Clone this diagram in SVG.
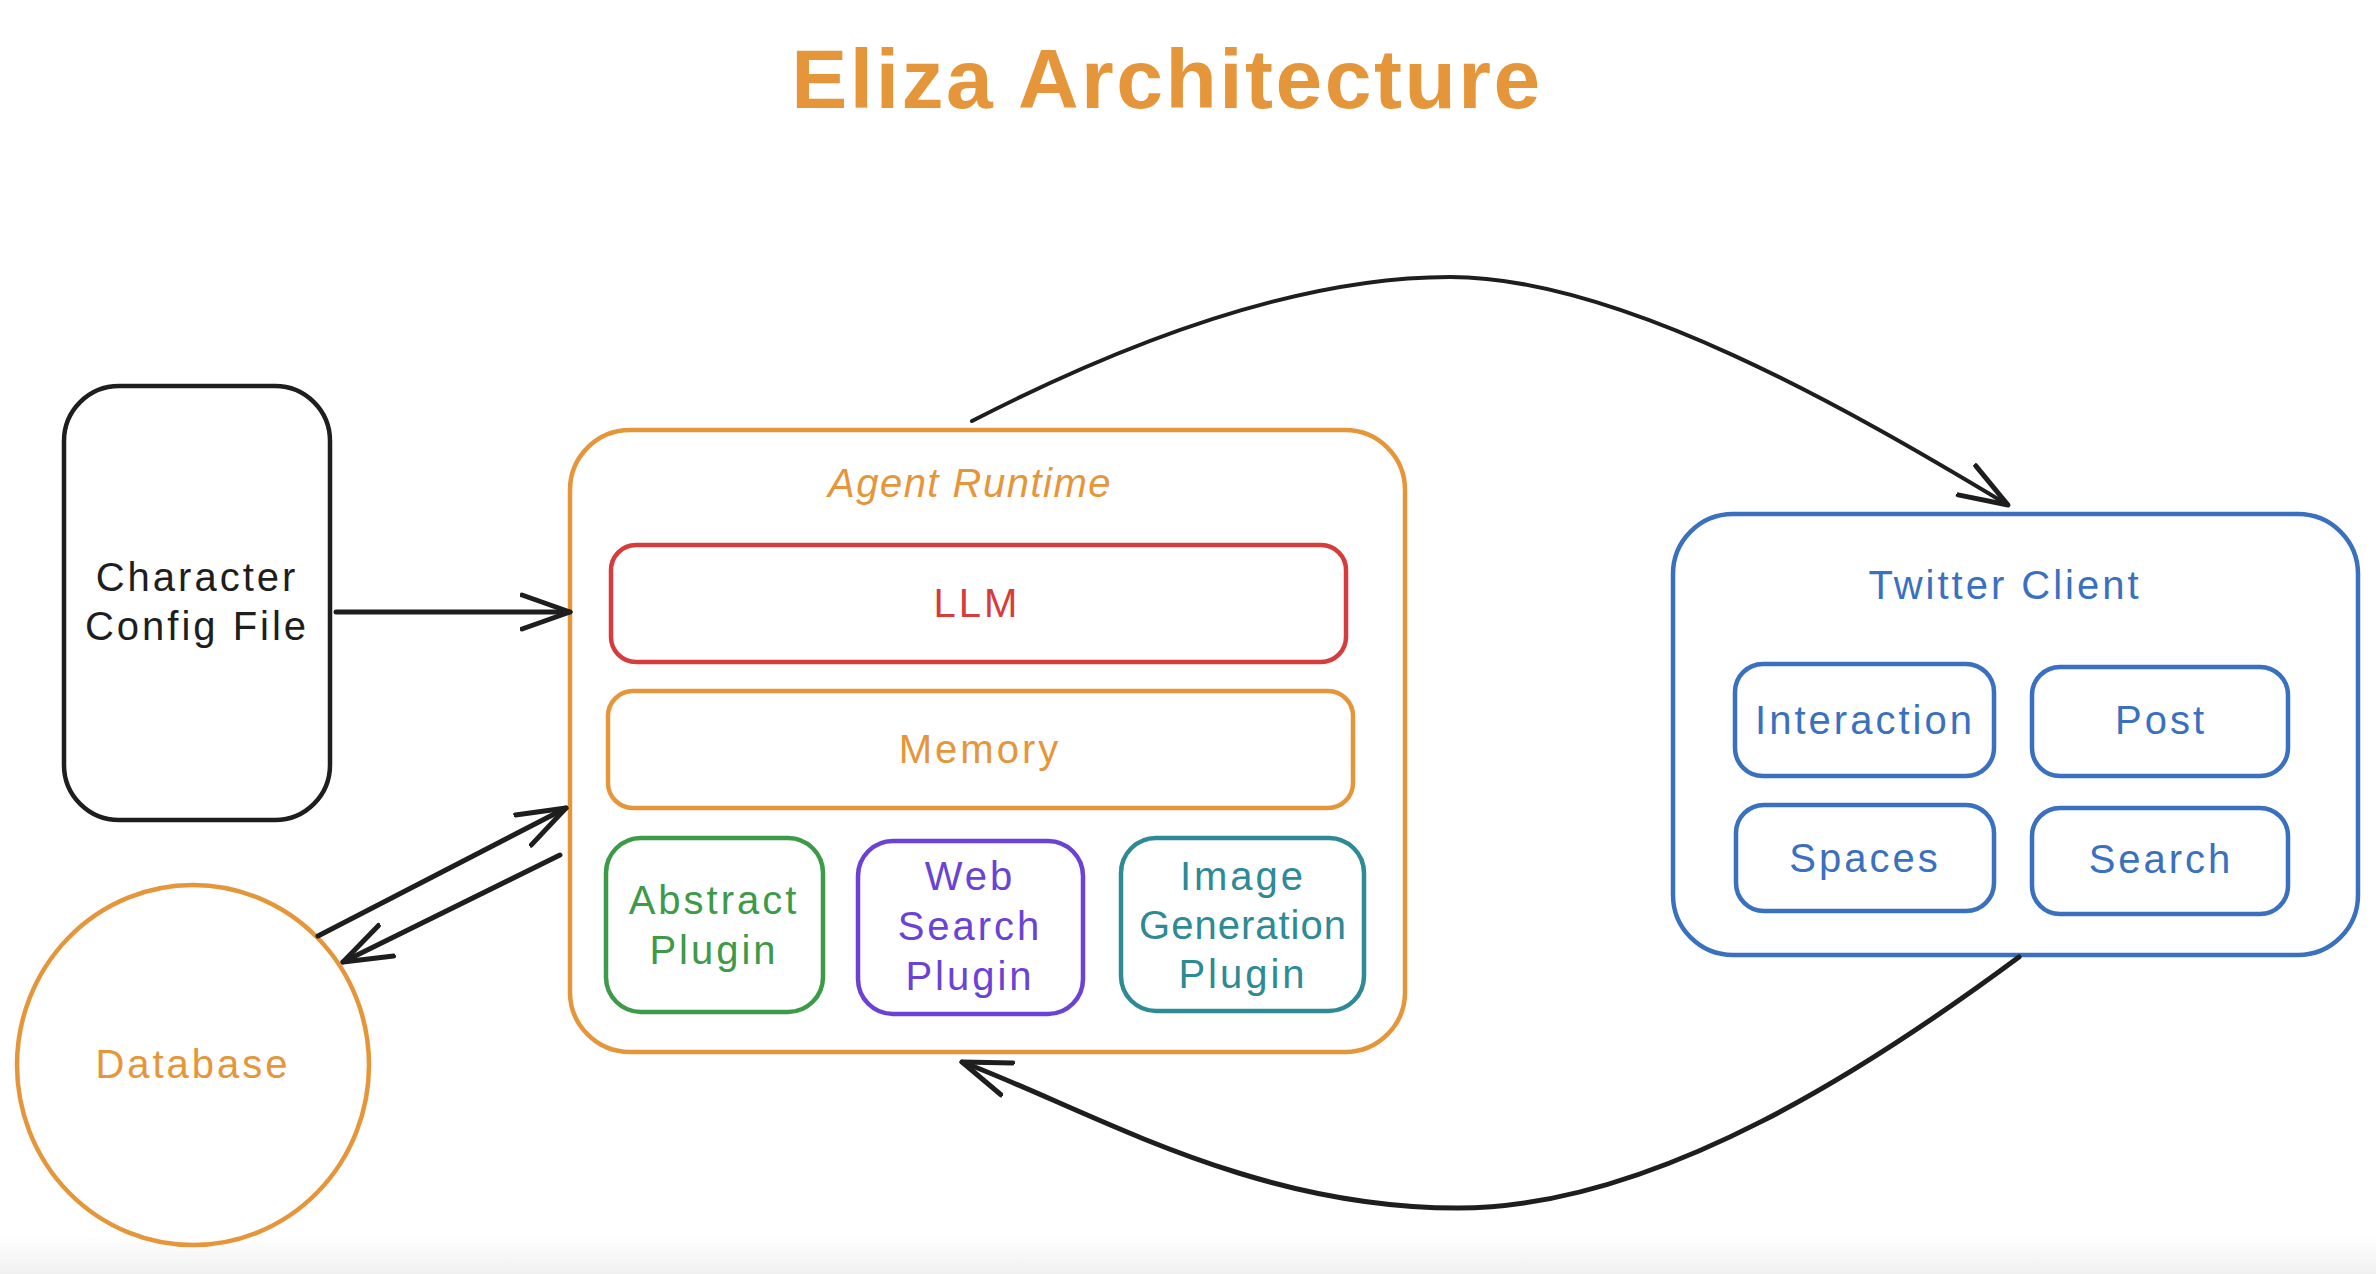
<svg xmlns="http://www.w3.org/2000/svg" width="2376" height="1274" viewBox="0 0 2376 1274">
<defs>
<style>
text{font-family:"Liberation Sans","DejaVu Sans",sans-serif;text-anchor:middle;dominant-baseline:central;font-size:40px;letter-spacing:3px}
.box{fill:none;stroke-width:4.5}
.or{stroke:#e6963a}.red{stroke:#d63c3c}.grn{stroke:#3d9a48}.pur{stroke:#6a42d6}.teal{stroke:#2e8a94}.blu{stroke:#3a70c0}.blk{stroke:#1e1e1e}
.tor{fill:#e6963a}.tred{fill:#d63c3c}.tgrn{fill:#3d9a48}.tpur{fill:#6a42d6}.tteal{fill:#2e8a94}.tblu{fill:#3a70c0}.tblk{fill:#1e1e1e}
.conn{fill:none;stroke:#1e1e1e;stroke-width:5;stroke-linecap:round;marker-end:url(#arr)}
</style>
<marker id="arr" viewBox="-50 -25 60 50" refX="0" refY="0" markerWidth="60" markerHeight="50" markerUnits="userSpaceOnUse" orient="auto">
<path d="M-48,-17 L0,0 L-48,17" fill="none" stroke="#1e1e1e" stroke-width="5" stroke-linecap="round" stroke-linejoin="round"/>
</marker>
<linearGradient id="bot" x1="0" y1="0" x2="0" y2="1"><stop offset="0" stop-color="#ffffff"/><stop offset="1" stop-color="#f0f0f0"/></linearGradient>
</defs>
<rect x="0" y="0" width="2376" height="1274" fill="#ffffff"/>
<rect x="0" y="1236" width="2376" height="38" fill="url(#bot)"/>
<g id="title"><text x="1167" y="79" class="tor" style="font-size:84px;font-weight:bold;letter-spacing:2.5px">Eliza Architecture</text></g>

<g id="character-config">
<rect x="64" y="386" width="266" height="434" rx="55" class="box blk"/>
<text x="197" y="577" class="tblk">Character</text>
<text x="197" y="626" class="tblk">Config File</text>
</g>

<g id="database">
<ellipse cx="193" cy="1065" rx="176" ry="180" class="box or"/>
<text x="193" y="1064" class="tor">Database</text>
</g>

<g id="agent-runtime">
<rect x="570" y="430" width="835" height="622" rx="60" class="box or"/>
<text x="970" y="483" class="tor" style="font-style:italic;letter-spacing:1.5px">Agent Runtime</text>
</g>
<g id="llm">
<rect x="611" y="545" width="735" height="117" rx="25" class="box red"/>
<text x="977" y="603" class="tred">LLM</text>
</g>
<g id="memory">
<rect x="608" y="691" width="745" height="117" rx="25" class="box or"/>
<text x="980" y="749" class="tor">Memory</text>
</g>
<g id="abstract-plugin">
<rect x="606" y="838" width="217" height="174" rx="35" class="box grn"/>
<text x="714" y="900" class="tgrn">Abstract</text>
<text x="714" y="950" class="tgrn">Plugin</text>
</g>
<g id="web-search-plugin">
<rect x="858" y="841" width="225" height="173" rx="35" class="box pur"/>
<text x="970" y="876" class="tpur">Web</text>
<text x="970" y="926" class="tpur">Search</text>
<text x="970" y="976" class="tpur">Plugin</text>
</g>
<g id="image-generation-plugin">
<rect x="1121" y="838" width="243" height="173" rx="35" class="box teal"/>
<text x="1243" y="876" class="tteal">Image</text>
<text x="1243" y="925" class="tteal" style="letter-spacing:1px">Generation</text>
<text x="1243" y="974" class="tteal">Plugin</text>
</g>

<g id="twitter-client">
<rect x="1673" y="514" width="685" height="441" rx="60" class="box blu"/>
<text x="2005" y="585" class="tblu">Twitter Client</text>
</g>
<g id="interaction">
<rect x="1735" y="664" width="259" height="112" rx="28" class="box blu"/>
<text x="1865" y="720" class="tblu">Interaction</text>
</g>
<g id="post">
<rect x="2032" y="667" width="256" height="109" rx="28" class="box blu"/>
<text x="2161" y="720" class="tblu">Post</text>
</g>
<g id="spaces">
<rect x="1736" y="805" width="258" height="106" rx="28" class="box blu"/>
<text x="1865" y="858" class="tblu">Spaces</text>
</g>
<g id="search">
<rect x="2032" y="808" width="256" height="106" rx="28" class="box blu"/>
<text x="2161" y="859" class="tblu">Search</text>
</g>

<g id="connectors">
<path class="conn" d="M336,612 L570,612"/>
<path class="conn" d="M318,936 L566,808"/>
<path class="conn" d="M560,855 L343,962"/>
<path class="conn" style="stroke-width:4" d="M972,421 C1130,340 1300,277 1450,277 C1620,277 1850,410 2008,505"/>
<path class="conn" d="M2019,957 C1880,1060 1660,1208 1458,1208 C1250,1208 1090,1110 962,1062"/>
</g>
</svg>
